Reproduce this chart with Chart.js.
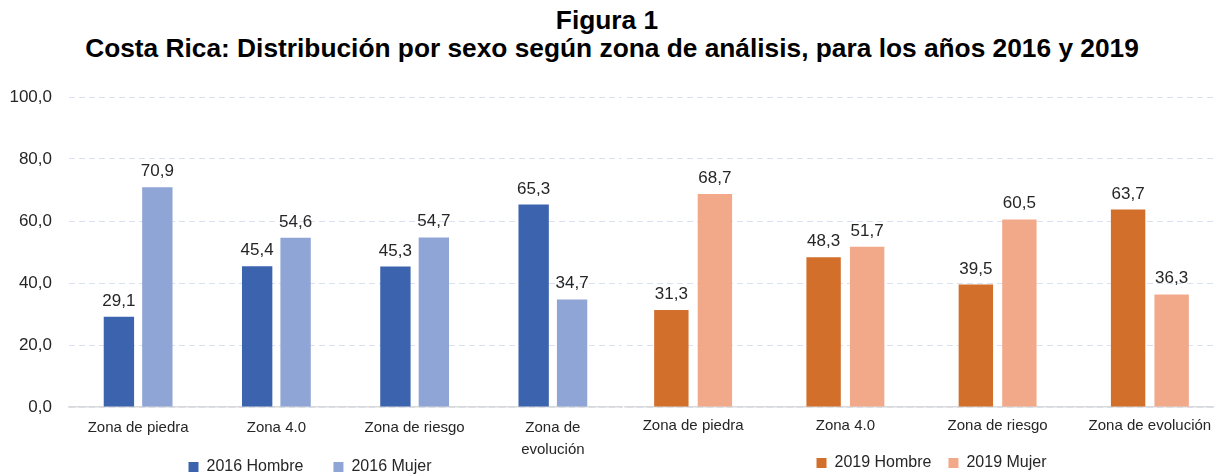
<!DOCTYPE html>
<html>
<head>
<meta charset="utf-8">
<script src="https://cdn.jsdelivr.net/npm/chart.js@4"></script>
<style>
  html, body { margin: 0; padding: 0; background: #fff; width: 1214px; height: 475px; overflow: hidden; position: relative; }
  .t { position: absolute; top: 0; width: 1214px; text-align: center; font-family: "Liberation Sans", Arial, sans-serif; font-weight: bold; font-size: 26.3px; line-height: 28px; color: #000; white-space: nowrap; }
  #t1 { top: 6px; left: 0px; }
  #t2 { top: 34px; left: 5px; }
  #leftWrap { position: absolute; left: 0px; top: 80px; width: 624px; height: 395px; z-index: 2; }
  #rightWrap { position: absolute; left: 617px; top: 80px; width: 609px; height: 395px; z-index: 1; }
</style>
</head>
<body>
<div class="t" id="t1">Figura 1</div>
<div class="t" id="t2">Costa Rica: Distribución por sexo según zona de análisis, para los años 2016 y 2019</div>
<div id="leftWrap"><canvas id="left"></canvas></div>
<div id="rightWrap"><canvas id="right"></canvas></div>
<script>
const categories2016 = ["Zona de piedra", "Zona 4.0", "Zona de riesgo", ["Zona de", "evolución"]];
const categories2019 = ["Zona de piedra", "Zona 4.0", "Zona de riesgo", "Zona de evolución"];
const hombre2016 = [29.1, 45.4, 45.3, 65.3];
const mujer2016 = [70.9, 54.6, 54.7, 34.7];
const hombre2019 = [31.3, 48.3, 39.5, 63.7];
const mujer2019 = [68.7, 51.7, 60.5, 36.3];
const yTicks = [0, 20, 40, 60, 80, 100];

const FONT = '"Liberation Sans", Arial, sans-serif';
const TEXT = '#262626';
const fmt = v => v.toFixed(1).replace('.', ',');

const valueLabels = {
  id: 'valueLabels',
  afterDatasetsDraw(chart) {
    const ctx = chart.ctx;
    ctx.save();
    ctx.font = '17px ' + FONT;
    ctx.fillStyle = TEXT;
    ctx.textAlign = 'center';
    ctx.textBaseline = 'alphabetic';
    chart.data.datasets.forEach((ds, i) => {
      const meta = chart.getDatasetMeta(i);
      meta.data.forEach((el, j) => {
        ctx.fillText(fmt(ds.data[j]), el.x, el.y - 11);
      });
    });
    ctx.restore();
  }
};

const whiteBg = {
  id: 'whiteBg',
  beforeDraw(chart, args, opts) {
    if (!opts.on) return;
    const ctx = chart.ctx;
    ctx.save();
    ctx.fillStyle = '#fff';
    ctx.fillRect(0, 0, chart.width, chart.height);
    ctx.restore();
  }
};

// After layout, give the legend its own box below the category labels
const legendMove = {
  id: 'legendMove',
  afterLayout(chart, args, opts) {
    const lg = chart.legend;
    if (!lg) return;
    lg.top = opts.top;
    lg.height = opts.h;
    lg.bottom = opts.top + opts.h;
    lg.left += opts.dx;
    lg.right += opts.dx;
  }
};

function makeChart(id, cfg) {
  return new Chart(document.getElementById(id), {
    type: 'bar',
    data: {
      labels: cfg.cats,
      datasets: [
        { label: cfg.labH, data: cfg.h, backgroundColor: cfg.colH, barPercentage: 0.79, categoryPercentage: cfg.catPct },
        { label: cfg.labM, data: cfg.m, backgroundColor: cfg.colM, barPercentage: 0.79, categoryPercentage: cfg.catPct }
      ]
    },
    options: {
      responsive: true,
      maintainAspectRatio: false,
      animation: false,
      layout: { padding: cfg.pad },
      plugins: {
        whiteBg: { on: cfg.bg },
        legendMove: { top: cfg.legTop, h: 60, dx: cfg.legDx },
        tooltip: { enabled: false },
        legend: {
          position: 'bottom',
          maxHeight: 1,
          labels: { font: { family: FONT, size: 16 }, color: TEXT, boxWidth: 10, boxHeight: 10, padding: cfg.legPad }
        }
      },
      scales: {
        x: {
          afterFit: s => { s.height = cfg.xH; s.paddingLeft = 0; s.paddingRight = 0; },
          grid: { display: false, drawTicks: false },
          border: { display: true, color: '#d9d9d9', width: 1.5 },
          ticks: { font: { family: FONT, size: 15, lineHeight: 1.47 }, color: TEXT, padding: cfg.xPad, maxRotation: 0, autoSkip: false }
        },
        y: {
          min: 0, max: 100,
          afterFit: s => { s.width = cfg.yW; s.paddingTop = 0; s.paddingBottom = 0; },
          afterBuildTicks: s => { s.ticks = yTicks.map(v => ({ value: v })); },
          grid: { color: '#d9e1f2', lineWidth: 1, drawTicks: false },
          border: { display: false, dash: [6, 4] },
          ticks: { display: cfg.showTicks, font: { family: FONT, size: 17 }, color: TEXT, padding: 17, callback: v => fmt(v) }
        }
      }
    },
    plugins: [whiteBg, legendMove, valueLabels]
  });
}

makeChart('left', {
  cats: categories2016, h: hombre2016, m: mujer2016,
  labH: '2016 Hombre', labM: '2016 Mujer', colH: '#3c64ae', colM: '#8fa5d5',
  showTicks: true, catPct: 0.556, pad: { left: 10, right: 2, top: 17, bottom: 0 },
  legPad: 30, legTop: 349, legDx: -6, xH: 67, xPad: 10, yW: 59, bg: true
});
makeChart('right', {
  cats: categories2019, h: hombre2019, m: mujer2019,
  labH: '2019 Hombre', labM: '2019 Mujer', colH: '#d26f2b', colM: '#f1a98a',
  showTicks: false, catPct: 0.572, pad: { left: 0, right: 0, top: 17, bottom: 0 },
  legPad: 17, legTop: 358, legDx: 10, xH: 67, xPad: 8, yW: 0, bg: false
});
</script>
</body>
</html>
